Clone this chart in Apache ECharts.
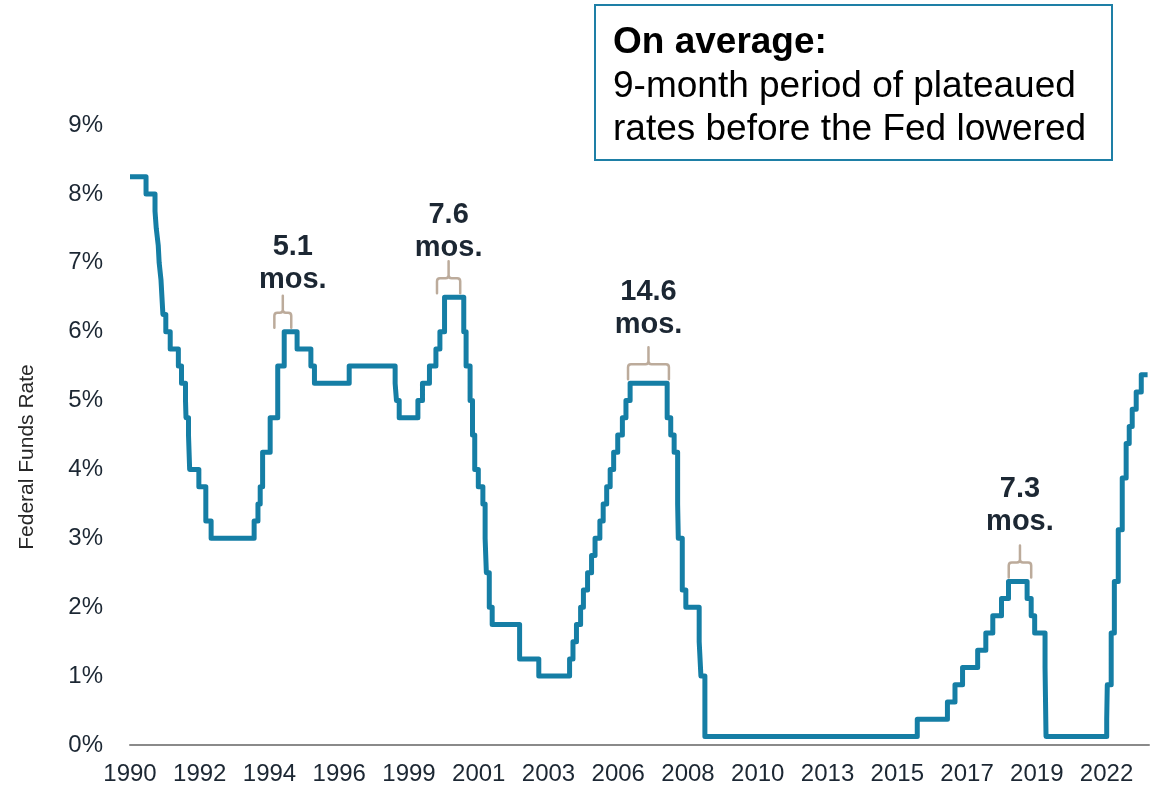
<!DOCTYPE html>
<html>
<head>
<meta charset="utf-8">
<title>Federal Funds Rate</title>
<script src="https://cdn.jsdelivr.net/npm/echarts@6/dist/echarts.min.js"></script>
<style>
  html, body { margin: 0; padding: 0; background: #fff; }
  #chart { width: 1158px; height: 790px; }
</style>
</head>
<body>
<div id="chart"></div>
<script>
// Federal funds target rate (midpoint of the range after 2008): date of each change and new level, %
const changeDates = [
  '1990-01-01','1990-07-13','1990-10-29','1990-11-13','1990-12-07','1990-12-18',
  '1991-01-09','1991-02-01','1991-03-08','1991-04-30','1991-08-06','1991-09-13',
  '1991-10-31','1991-11-06','1991-12-06','1991-12-20','1992-04-09','1992-07-02',
  '1992-09-04','1994-02-04','1994-03-22','1994-04-18','1994-05-17','1994-08-16',
  '1994-11-15','1995-02-01','1995-07-06','1995-12-19','1996-01-31','1997-03-25',
  '1998-09-29','1998-10-15','1998-11-17','1999-06-30','1999-08-24','1999-11-16',
  '2000-02-02','2000-03-21','2000-05-16','2001-01-03','2001-01-31','2001-03-20',
  '2001-04-18','2001-05-15','2001-06-27','2001-08-21','2001-09-17','2001-10-02',
  '2001-11-06','2001-12-11','2002-11-06','2003-06-25','2004-06-30','2004-08-10',
  '2004-09-21','2004-11-10','2004-12-14','2005-02-02','2005-03-22','2005-05-03',
  '2005-06-30','2005-08-09','2005-09-20','2005-11-01','2005-12-13','2006-01-31',
  '2006-03-28','2006-05-10','2006-06-29','2007-09-18','2007-10-31','2007-12-11',
  '2008-01-22','2008-01-30','2008-03-18','2008-04-30','2008-10-08','2008-10-29',
  '2008-12-16','2015-12-17','2016-12-15','2017-03-16','2017-06-15','2017-12-14',
  '2018-03-22','2018-06-14','2018-09-27','2018-12-20','2019-08-01','2019-09-19',
  '2019-10-31','2020-03-04','2020-03-16','2022-03-17','2022-03-24','2022-05-10',
  '2022-06-17','2022-08-03','2022-09-20','2022-11-06','2022-12-13','2023-01-18',
  '2023-03-07','2023-05-07'
];
const rates = [
  8.25, 8.00, 7.75, 7.50, 7.25, 7.00,
  6.75, 6.25, 6.00, 5.75, 5.50, 5.25,
  5.00, 4.75, 4.50, 4.00, 3.75, 3.25,
  3.00, 3.25, 3.50, 3.75, 4.25, 4.75,
  5.50, 6.00, 5.75, 5.50, 5.25, 5.50,
  5.25, 5.00, 4.75, 5.00, 5.25, 5.50,
  5.75, 6.00, 6.50, 6.00, 5.50, 5.00,
  4.50, 4.00, 3.75, 3.50, 3.00, 2.50,
  2.00, 1.75, 1.25, 1.00, 1.25, 1.50,
  1.75, 2.00, 2.25, 2.50, 2.75, 3.00,
  3.25, 3.50, 3.75, 4.00, 4.25, 4.50,
  4.75, 5.00, 5.25, 4.75, 4.50, 4.25,
  3.50, 3.00, 2.25, 2.00, 1.50, 1.00,
  0.125, 0.375, 0.625, 0.875, 1.125, 1.375,
  1.625, 1.875, 2.125, 2.375, 2.125, 1.875,
  1.625, 1.125, 0.125, 0.375, 0.875, 1.625,
  2.375, 3.125, 3.875, 4.375, 4.625, 4.875,
  5.125, 5.375
];
const seriesEnd = '2023-07-22';

// Year labels printed under the axis, one per tick
const yearLabels = ['1990','1992','1994','1996','1999','2001','2003','2006',
                    '2008','2010','2013','2015','2017','2019','2022'];
const yTicks = [0, 1, 2, 3, 4, 5, 6, 7, 8, 9];

// Plateaus before the first cut of each easing cycle
const plateauLabels = ['5.1', '7.6', '14.6', '7.3'];
const plateauMonths = [5.1, 7.6, 14.6, 7.3];
const plateauCenters = ['1995-01-15', '2000-07-04', '2007-02-05', '2019-05-07'];
const plateauRates = [6.0, 6.5, 5.25, 2.375];

const boxTitle = 'On average:';
const boxLines = ['9-month period of plateaued', 'rates before the Fed lowered'];
const axisTitle = 'Federal Funds Rate';

const START_YEAR = 1990;
const TICK_STEP = 2.3;   // years between year labels

function yearsSinceStart(s) {
  const d = new Date(s + 'T00:00:00Z');
  const y = d.getUTCFullYear();
  const y0 = Date.UTC(y, 0, 1), y1 = Date.UTC(y + 1, 0, 1);
  return (y - START_YEAR) + (d.getTime() - y0) / (y1 - y0);
}

const linePoints = changeDates.map((d, i) => [yearsSinceStart(d), rates[i]]);
linePoints.push([yearsSinceStart(seriesEnd), rates[rates.length - 1]]);

const bracketData = plateauLabels.map((lab, i) =>
  [yearsSinceStart(plateauCenters[i]), plateauRates[i], plateauMonths[i] / 12, i]);

const FONT = '"Liberation Sans", Arial, Helvetica, sans-serif';
const LINE_COLOR = '#157ea5';
const BRACKET_COLOR = '#bcab9b';
const TEXT_DARK = '#1c2733';
// small nudges of individual plateau captions (px)
const CAPTION_NUDGE = [[10, 4], [0, 6], [0, -3], [0, -4]];

function renderBracket(params, api) {
  const c = api.coord([api.value(0), api.value(1)]);
  const w = api.size([api.value(2), 0])[0];
  const idx = api.value(3);
  const xc = c[0];
  const x0 = xc - w / 2 - 2, x1 = xc + w / 2 + 2;
  const baseY = c[1] - 4;
  const barY = baseY - 15;
  const stemTop = barY - 17;
  const r = 3;
  const path =
    'M' + x0 + ' ' + baseY + ' L' + x0 + ' ' + (barY + r) +
    ' Q' + x0 + ' ' + barY + ' ' + (x0 + r) + ' ' + barY +
    ' L' + (xc - r) + ' ' + barY +
    ' Q' + xc + ' ' + barY + ' ' + xc + ' ' + (barY - r) +
    ' L' + xc + ' ' + stemTop +
    ' M' + xc + ' ' + (barY - r) +
    ' Q' + xc + ' ' + barY + ' ' + (xc + r) + ' ' + barY +
    ' L' + (x1 - r) + ' ' + barY +
    ' Q' + x1 + ' ' + barY + ' ' + x1 + ' ' + (barY + r) +
    ' L' + x1 + ' ' + baseY;
  const nudge = CAPTION_NUDGE[idx] || [0, 0];
  return {
    type: 'group',
    children: [
      {
        type: 'path',
        shape: { pathData: path },
        style: { fill: null, stroke: BRACKET_COLOR, lineWidth: 2.5, lineCap: 'round' }
      },
      {
        type: 'text',
        x: xc + nudge[0],
        y: stemTop - 3 + nudge[1],
        style: {
          text: plateauLabels[idx] + '\nmos.',
          fill: TEXT_DARK,
          font: 'bold 29px ' + FONT,
          lineHeight: 33,
          align: 'center',
          verticalAlign: 'bottom'
        }
      }
    ]
  };
}

const chart = echarts.init(document.getElementById('chart'), null, { renderer: 'canvas' });

chart.setOption({
  animation: false,
  backgroundColor: '#ffffff',
  grid: { left: 130, right: 9, top: 125, bottom: 45, containLabel: false },
  xAxis: {
    type: 'value',
    min: 0,
    max: 33.6,
    interval: TICK_STEP,
    axisLine: { show: true, lineStyle: { color: '#8a8a8a', width: 2 } },
    axisTick: { show: false },
    splitLine: { show: false },
    axisLabel: {
      margin: 17,
      fontSize: 24,
      fontFamily: FONT,
      color: TEXT_DARK,
      showMaxLabel: false,
      formatter: function (v) {
        const k = Math.round(v / TICK_STEP);
        if (Math.abs(v - k * TICK_STEP) > 1e-6) return '';
        return yearLabels[k] || '';
      }
    }
  },
  yAxis: {
    type: 'value',
    min: yTicks[0],
    max: yTicks[yTicks.length - 1],
    interval: 1,
    axisLine: { show: false },
    axisTick: { show: false },
    splitLine: { show: false },
    axisLabel: {
      margin: 27,
      fontSize: 24,
      fontFamily: FONT,
      color: TEXT_DARK,
      formatter: function (v) { return v + '%'; }
    }
  },
  series: [
    {
      type: 'line',
      data: linePoints,
      step: 'end',
      showSymbol: false,
      lineStyle: { color: LINE_COLOR, width: 5, join: 'round' },
      z: 3
    },
    {
      type: 'custom',
      renderItem: renderBracket,
      data: bracketData,
      z: 4,
      silent: true
    }
  ],
  graphic: [
    {
      type: 'text',
      x: 27,
      y: 457,
      rotation: Math.PI / 2,
      style: {
        text: axisTitle,
        font: '21px ' + FONT,
        fill: '#262626',
        align: 'center',
        verticalAlign: 'middle'
      }
    },
    {
      type: 'rect',
      shape: { x: 595, y: 5, width: 517, height: 155 },
      style: { fill: '#ffffff', stroke: '#1e7fa6', lineWidth: 2 }
    },
    {
      type: 'text',
      x: 613,
      y: 43,
      style: {
        text: boxTitle,
        font: 'bold 37px ' + FONT,
        fill: '#000000',
        align: 'left',
        verticalAlign: 'middle'
      }
    },
    {
      type: 'text',
      x: 613,
      y: 87,
      style: {
        text: boxLines[0],
        font: '37px ' + FONT,
        fill: '#000000',
        align: 'left',
        verticalAlign: 'middle'
      }
    },
    {
      type: 'text',
      x: 613,
      y: 130,
      style: {
        text: boxLines[1],
        font: '37px ' + FONT,
        fill: '#000000',
        align: 'left',
        verticalAlign: 'middle'
      }
    }
  ]
});
</script>
</body>
</html>
